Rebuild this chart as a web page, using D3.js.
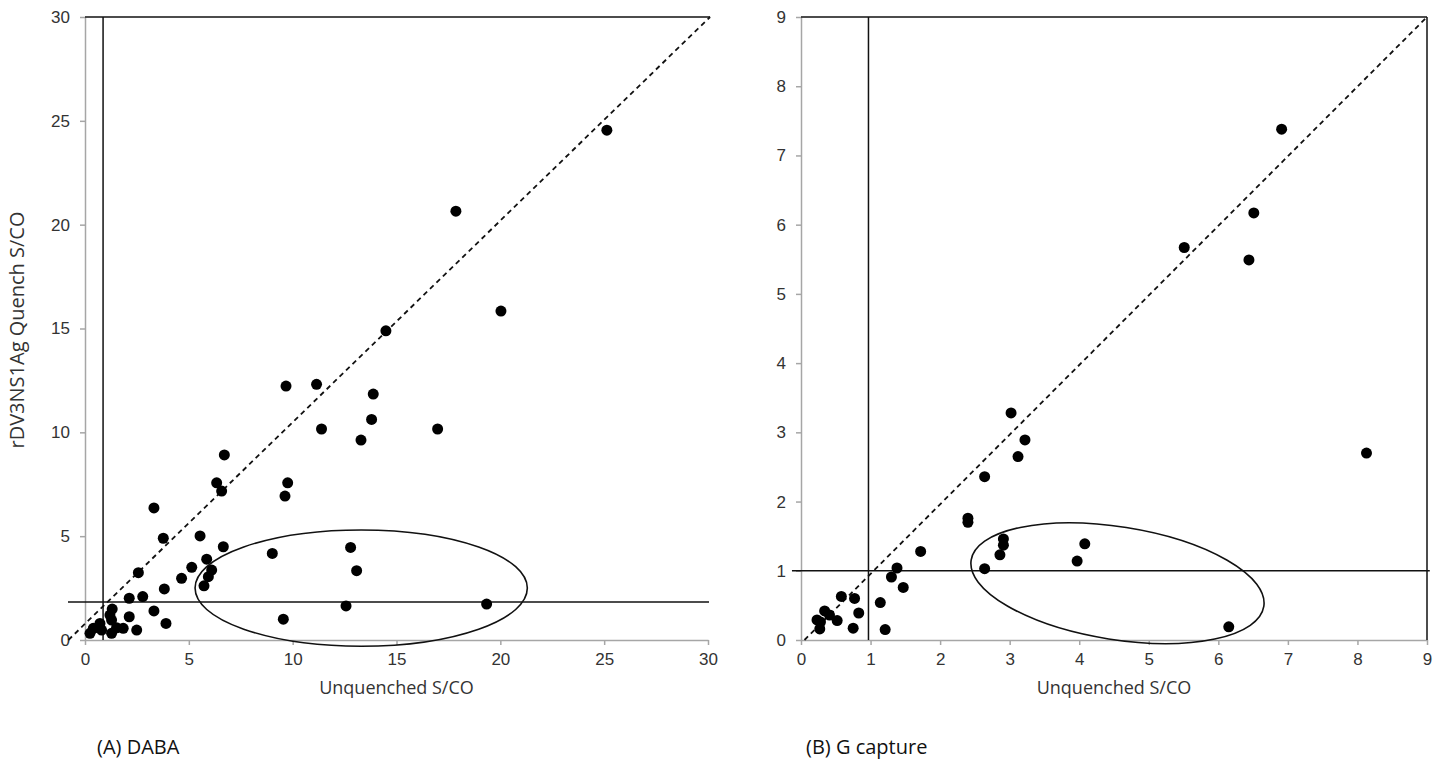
<!DOCTYPE html>
<html><head><meta charset="utf-8">
<script src="https://cdn.jsdelivr.net/npm/d3@7"></script>
<style>
body{margin:0;background:#fff;}
svg{display:block;font-family:"Open Sans","Noto Sans",sans-serif;}
</style></head>
<body>
<svg id="c" width="1433" height="771"></svg>
<script>
// ---- Panel A (DABA) data: [unquenched, quench]
const dabaX = [25.13,17.86,20.03,14.49,9.68,11.15,13.88,13.80,11.39,13.29,16.98,6.71,6.34,6.58,9.76,9.63,
  3.32,3.77,5.54,6.66,5.86,6.10,5.94,5.73,5.14,4.65,3.82,2.57,2.13,2.78,3.32,3.90,2.13,1.31,1.20,1.28,0.72,0.40,0.24,0.80,1.28,1.84,2.49,1.52,
  9.02,12.79,13.08,12.57,19.34,9.55];
const dabaY = [24.55,20.65,15.84,14.89,12.23,12.31,11.84,10.62,10.16,9.63,10.16,8.91,7.57,7.17,7.57,6.93,
  6.36,4.90,5.01,4.49,3.89,3.37,3.05,2.61,3.50,2.97,2.46,3.24,2.01,2.09,1.40,0.80,1.12,1.49,1.20,0.96,0.80,0.56,0.32,0.48,0.32,0.56,0.48,0.59,
  4.17,4.46,3.34,1.64,1.73,1.00];
// ---- Panel B (G capture) data
const gcapX = [6.91,6.51,5.51,6.44,8.13,3.02,3.22,3.12,2.64,2.40,2.40,2.91,2.91,2.86,2.64,4.08,3.97,6.15,
  1.72,1.38,1.30,1.47,1.14,1.21,0.83,0.77,0.58,0.75,0.41,0.34,0.52,0.23,0.28,0.27];
const gcapY = [7.38,6.17,5.67,5.49,2.70,3.28,2.89,2.65,2.36,1.76,1.70,1.46,1.37,1.23,1.03,1.39,1.14,0.19,
  1.28,1.04,0.91,0.76,0.54,0.15,0.39,0.60,0.63,0.17,0.36,0.42,0.28,0.29,0.26,0.16];

const ticksA = [0,5,10,15,20,25,30];
const ticksB = [0,1,2,3,4,5,6,7,8,9];
// cut-off lines, identity (dashed) line ends and highlight ellipses, in data units
const cutA = {x:0.87, y:1.83, hx0:-0.82, hx1:30.05};
const cutB = {x:0.97, y:1.0, hx0:-0.13, hx1:9.04};
const diagA = [[-0.8,0],[30.1,30]];
const diagB = [[0.05,0],[9,9]];
const ellA = {cx:13.3, cy:2.5, rx:8.0, ry:2.8, rot:0};
const ellB = {cx:4.55, cy:0.82, rx:2.13, ry:0.815, rot:9};

const svg = d3.select("#c");
const AX = "#a6a6a6";

function panel(cfg){
  const g = svg.append("g");
  const x = d3.scaleLinear().domain([0,cfg.max]).range(cfg.xr);
  const y = d3.scaleLinear().domain([0,cfg.max]).range([640,17]);
  // axes
  const ya = g.append("g").attr("transform",`translate(${x(0)},0)`)
    .call(d3.axisLeft(y).tickValues(cfg.ticks).tickSize(5).tickSizeOuter(0).tickPadding(10));
  const xa = g.append("g").attr("transform",`translate(0,${y(0)})`)
    .call(d3.axisBottom(x).tickValues(cfg.ticks).tickSize(5).tickSizeOuter(0).tickPadding(8));
  [ya,xa].forEach(a=>{
    a.selectAll("path,line").attr("stroke",AX).attr("stroke-width",1.5);
    a.selectAll("text").attr("font-size",17).attr("fill","#333");
  });
  // top line
  g.append("line").attr("x1",x(0)).attr("x2",x(cfg.topEnd)).attr("y1",y(cfg.max)).attr("y2",y(cfg.max))
    .attr("stroke","#111").attr("stroke-width",1.5);
  if(cfg.rightBorder){
    g.append("line").attr("x1",x(cfg.max)).attr("x2",x(cfg.max)).attr("y1",y(cfg.max)).attr("y2",y(0))
      .attr("stroke","#111").attr("stroke-width",1.5);
  }
  // cutoff lines
  g.append("line").attr("x1",x(cfg.cut.x)).attr("x2",x(cfg.cut.x)).attr("y1",y(cfg.max)).attr("y2",y(0))
    .attr("stroke","#111").attr("stroke-width",1.5);
  g.append("line").attr("x1",x(cfg.cut.hx0)).attr("x2",x(cfg.cut.hx1)).attr("y1",y(cfg.cut.y)).attr("y2",y(cfg.cut.y))
    .attr("stroke","#111").attr("stroke-width",1.5);
  // dashed identity line
  g.append("line").attr("x1",x(cfg.diag[0][0])).attr("y1",y(cfg.diag[0][1]))
    .attr("x2",x(cfg.diag[1][0])).attr("y2",y(cfg.diag[1][1]))
    .attr("stroke","#111").attr("stroke-width",1.8).attr("stroke-dasharray","5,4");
  // ellipse
  const e = cfg.ell;
  g.append("ellipse").attr("cx",0).attr("cy",0)
    .attr("rx",x(e.rx)-x(0)).attr("ry",y(0)-y(e.ry))
    .attr("transform",`translate(${x(e.cx)},${y(e.cy)}) rotate(${e.rot})`)
    .attr("fill","none").attr("stroke","#111").attr("stroke-width",1.6);
  // points
  g.selectAll("circle.pt").data(d3.range(cfg.xs.length)).join("circle").attr("class","pt")
    .attr("cx",i=>x(cfg.xs[i])).attr("cy",i=>y(cfg.ys[i])).attr("r",5.5).attr("fill","#000");
  // axis title
  g.append("text").attr("x",(cfg.xr[0]+cfg.xr[1])/2).attr("y",694).attr("text-anchor","middle")
    .attr("font-size",18).attr("fill","#333").text("Unquenched S/CO");
  // caption
  g.append("text").attr("x",cfg.capX).attr("y",754).attr("font-size",20).attr("fill","#111").text(cfg.caption);
  return g;
}

panel({max:30, xr:[85,708], ticks:ticksA, xs:dabaX, ys:dabaY, cut:cutA, diag:diagA, ell:ellA,
  topEnd:30.1, rightBorder:false, caption:"(A) DABA", capX:97});
panel({max:9, xr:[801,1427], ticks:ticksB, xs:gcapX, ys:gcapY, cut:cutB, diag:diagB, ell:ellB,
  topEnd:9, rightBorder:true, caption:"(B) G capture", capX:806});

svg.append("text").attr("transform","translate(24,330) rotate(-90)").attr("text-anchor","middle")
  .attr("font-size",20).attr("fill","#333").text("rDV3NS1Ag Quench S/CO");
</script>
</body></html>
